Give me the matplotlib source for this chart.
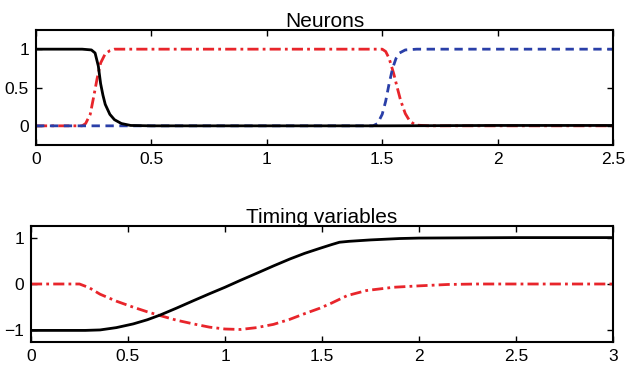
import numpy as np
import matplotlib
matplotlib.use('Agg')
import matplotlib.pyplot as plt

plt.rcParams['font.family'] = ['Liberation Sans', 'DejaVu Sans']

# --- Neurons panel ---
t_black = [0, 0.20, 0.24, 0.256, 0.27, 0.28, 0.29, 0.30, 0.32, 0.34, 0.37, 0.41, 0.5, 1.0, 1.5, 2.0, 2.5]
y_black = [1, 1, 0.99, 0.95, 0.78, 0.55, 0.40, 0.28, 0.15, 0.08, 0.03, 0.005, 0, 0, 0, 0.005, 0.005]

t_red = [0, 0.20, 0.215, 0.235, 0.25, 0.265, 0.28, 0.30, 0.32, 0.34, 0.4, 1.0, 1.50, 1.515,
         1.53, 1.55, 1.565, 1.58, 1.60, 1.62, 1.645, 1.7, 2.0, 2.5]
y_red = [0, 0, 0.03, 0.15, 0.38, 0.62, 0.82, 0.94, 0.98, 1.0, 1.0, 1.0, 1.0, 0.97,
         0.88, 0.68, 0.5, 0.33, 0.16, 0.06, 0.01, 0, 0, 0]

t_blue = [0, 1.0, 1.46, 1.48, 1.50, 1.515, 1.53, 1.545, 1.56, 1.575, 1.60, 1.65, 2.0, 2.5]
y_blue = [0, 0, 0, 0.03, 0.15, 0.32, 0.55, 0.75, 0.88, 0.95, 0.99, 1.0, 1.0, 1.0]

# --- Timing variables panel ---
t_tb = [0, 0.28, 0.356, 0.44, 0.527, 0.60, 0.665, 0.75, 0.837, 0.92, 1.0, 1.08, 1.163, 1.25,
        1.335, 1.41, 1.49, 1.55, 1.59, 1.64, 1.75, 1.9, 2.0, 2.5, 3.0]
y_tb = [-1, -1, -0.99, -0.94, -0.86, -0.77, -0.67, -0.52, -0.36, -0.21, -0.07, 0.08, 0.23, 0.39,
        0.54, 0.66, 0.77, 0.85, 0.90, 0.92, 0.95, 0.98, 0.99, 1.0, 1.0]

t_tr = [0, 0.25, 0.30, 0.356, 0.44, 0.527, 0.60, 0.665, 0.75, 0.837, 0.92, 1.0, 1.08, 1.163,
        1.25, 1.335, 1.41, 1.49, 1.55, 1.59, 1.63, 1.73, 1.87, 2.0, 2.15, 2.3, 3.0]
y_tr = [0, 0, -0.08, -0.22, -0.37, -0.50, -0.60, -0.68, -0.78, -0.86, -0.93, -0.97, -0.98, -0.94,
        -0.87, -0.76, -0.64, -0.52, -0.41, -0.33, -0.25, -0.14, -0.07, -0.04, -0.01, 0, 0]

red = '#e8252b'
blue = '#2a3fa8'

fig = plt.figure(figsize=(6.27, 3.69), dpi=100)
ax1 = fig.add_axes([36/627, 1-145/369, 577/627, 115/369])
ax2 = fig.add_axes([31/627, 1-342/369, 582/627, 116/369])

ax1.plot(t_red, y_red, color=red, lw=2, ls=(0, (4, 1.5, 1, 1.5)))
ax1.plot(t_blue, y_blue, color=blue, lw=2, ls=(0, (3, 2)))
ax1.plot(t_black, y_black, color='black', lw=2)
ax1.set_xlim(0, 2.5)
ax1.set_ylim(-0.25, 1.25)
ax1.set_xticks([0, 0.5, 1, 1.5, 2, 2.5])
ax1.set_xticklabels(['0', '0.5', '1', '1.5', '2', '2.5'])
ax1.set_yticks([0, 0.5, 1])
ax1.set_yticklabels(['0', '0.5', '1'])
ax1.set_title('Neurons', fontsize=15, pad=2)

ax2.plot(t_tr, y_tr, color=red, lw=2, ls=(0, (4, 1.5, 1, 1.5)))
ax2.plot(t_tb, y_tb, color='black', lw=2)
ax2.set_xlim(0, 3)
ax2.set_ylim(-1.25, 1.25)
ax2.set_xticks([0, 0.5, 1, 1.5, 2, 2.5, 3])
ax2.set_xticklabels(['0', '0.5', '1', '1.5', '2', '2.5', '3'])
ax2.set_yticks([-1, 0, 1])
ax2.set_yticklabels(['\u22121', '0', '1'])
ax2.set_title('Timing variables', fontsize=15, pad=2)

for ax in (ax1, ax2):
    ax.tick_params(direction='in', top=True, right=True, labelsize=12.5, length=4, width=1, pad=5)
    for s in ax.spines.values():
        s.set_linewidth(1.5)

fig.savefig('out.png', dpi=100)
